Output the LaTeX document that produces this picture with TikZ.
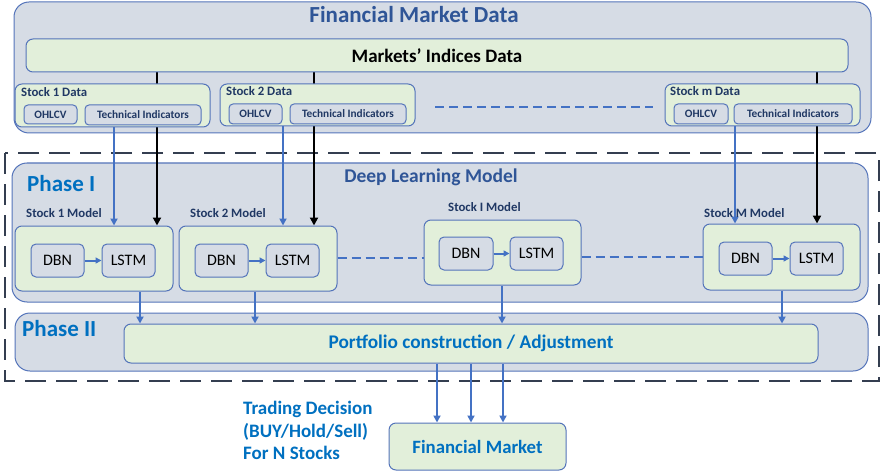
\documentclass[tikz,border=0pt]{standalone}
\usepackage{fontspec}
\setmainfont{Carlito}
\usetikzlibrary{arrows.meta}
\definecolor{framefill}{RGB}{214,220,229}
\definecolor{greenfill}{RGB}{226,239,218}
\definecolor{edgeblue}{RGB}{84,116,186}
\definecolor{arrowblue}{RGB}{68,114,196}
\definecolor{titleblue}{RGB}{47,85,151}
\definecolor{navy}{RGB}{32,56,100}
\definecolor{brightblue}{RGB}{0,112,192}
\definecolor{slate}{RGB}{52,62,80}
\pgfdeclarelayer{back}
\pgfdeclarelayer{mid}
\pgfsetlayers{back,mid,main}
\tikzset{
  frame/.style={draw=edgeblue, fill=framefill, line width=1pt, rounded corners=15pt, inner sep=0pt},
  gbox/.style={draw=edgeblue, fill=greenfill, line width=1pt, rounded corners=7pt, inner sep=0pt},
  tinybox/.style={draw=edgeblue, fill=framefill, line width=1pt, rounded corners=4pt, inner sep=0pt,
    font=\fontsize{11.3}{13}\selectfont\bfseries, text=navy},
  netbox/.style={draw=edgeblue, fill=framefill, line width=1pt, rounded corners=5pt, inner sep=0pt,
    font=\fontsize{16}{18}\selectfont},
  caption/.style={font=\fontsize{12.8}{14}\selectfont\bfseries, text=navy, inner sep=0pt},
  bluearrow/.style={draw=arrowblue, line width=2.3pt, -{Triangle[length=7pt,width=7pt]}},
  blackarrow/.style={draw=black, line width=2.8pt, -{Triangle[length=8pt,width=8pt]}},
  smallarrow/.style={draw=arrowblue, line width=2pt, -{Triangle[length=6pt,width=6pt]}},
  bluedash/.style={draw=arrowblue, line width=2.6pt, dash pattern=on 9pt off 5pt},
  outerdash/.style={draw=slate, line width=2.8pt, dash pattern=on 21pt off 10pt},
}
\begin{document}
\begin{tikzpicture}[x=1pt,y=-1pt]
\useasboundingbox (0,0) rectangle (882,473);

% ---- background frames ----
\begin{pgfonlayer}{back}
  \node[frame, minimum width=857pt, minimum height=131pt] (fmd) at (442.5,67.5) {};
  \draw[outerdash] (5,153) rectangle (879,381);
  \node[frame, minimum width=856pt, minimum height=139pt] (dlm) at (440,232.5) {};
  \node[frame, minimum width=853pt, minimum height=58pt] (ph2) at (441.5,342) {};
\end{pgfonlayer}

\node[font=\fontsize{23}{26}\selectfont\bfseries, text=titleblue] (fmdtitle) at (414,15) {Financial Market Data};
\node[gbox, minimum width=822pt, minimum height=33pt, font=\fontsize{19}{22}\selectfont\bfseries] (mid) at (437,55.5) {Markets’ Indices Data};

% ---- stock data boxes ----
\node[gbox, minimum width=195pt, minimum height=43pt] (sd1) at (112.5,105.5) {};
\node[caption, anchor=west] (sd1lab) at (21,92) {Stock 1 Data};
\node[tinybox, minimum width=53pt, minimum height=19pt] (oh1) at (50.5,114.5) {OHLCV};
\node[tinybox, minimum width=116pt, minimum height=20pt] (ti1) at (143,115) {Technical Indicators};

\node[gbox, minimum width=195pt, minimum height=42pt] (sd2) at (317.5,105) {};
\node[caption, anchor=west] (sd2lab) at (226,91.5) {Stock 2 Data};
\node[tinybox, minimum width=53pt, minimum height=20pt] (oh2) at (255.5,114) {OHLCV};
\node[tinybox, minimum width=116pt, minimum height=20pt] (ti2) at (348,114) {Technical Indicators};

\node[gbox, minimum width=195pt, minimum height=42pt] (sdm) at (762.5,105) {};
\node[caption, anchor=west] (sdmlab) at (670,91.5) {Stock m Data};
\node[tinybox, minimum width=54pt, minimum height=20pt] (ohm) at (701,114) {OHLCV};
\node[tinybox, minimum width=118pt, minimum height=20pt] (tim) at (793,114) {Technical Indicators};

\coordinate (sdotsa) at (435,107);
\coordinate (sdotsb) at (653,107);

% ---- deep learning model ----
\node[font=\fontsize{23}{26}\selectfont\bfseries, text=brightblue, anchor=west, inner sep=0pt] (ph1lab) at (27,184) {Phase I};
\node[font=\fontsize{19.5}{22}\selectfont\bfseries, text=titleblue] (dlmlab) at (431,177) {Deep Learning Model};

\node[gbox, minimum width=158pt, minimum height=65pt] (m1) at (94,258.5) {};
\node[caption, anchor=west] (m1lab) at (26,213) {Stock 1 Model};
\node[netbox, minimum width=53pt, minimum height=33pt] (dbn1) at (57.5,260.5) {DBN};
\node[netbox, minimum width=53pt, minimum height=33pt] (lstm1) at (128.5,260.5) {LSTM};

\node[gbox, minimum width=158pt, minimum height=65pt] (m2) at (258,258.5) {};
\node[caption, anchor=west] (m2lab) at (190,213) {Stock 2 Model};
\node[netbox, minimum width=53pt, minimum height=33pt] (dbn2) at (221.5,260.5) {DBN};
\node[netbox, minimum width=53pt, minimum height=33pt] (lstm2) at (292.5,260.5) {LSTM};

\node[gbox, minimum width=157pt, minimum height=65pt] (mi) at (502.5,252.5) {};
\node[caption, anchor=west] (milab) at (448,207) {Stock I Model};
\node[netbox, minimum width=54pt, minimum height=33pt] (dbni) at (466,253.5) {DBN};
\node[netbox, minimum width=53pt, minimum height=33pt] (lstmi) at (536.5,253.5) {LSTM};

\node[gbox, minimum width=157pt, minimum height=66pt] (mm) at (781.5,257) {};
\node[caption, anchor=west] (mmlab) at (704,213) {Stock M Model};
\node[netbox, minimum width=53pt, minimum height=33pt] (dbnm) at (745.5,258.5) {DBN};
\node[netbox, minimum width=53pt, minimum height=33pt] (lstmm) at (816.5,258.5) {LSTM};

% ---- phase II ----
\node[font=\fontsize{23}{26}\selectfont\bfseries, text=brightblue, anchor=west, inner sep=0pt] (ph2lab) at (22,329) {Phase II};
\node[gbox, minimum width=694pt, minimum height=39pt, font=\fontsize{19.3}{22}\selectfont\bfseries, text=brightblue] (pf) at (471,343.5) {Portfolio construction / Adjustment};

% ---- output ----
\node[gbox, minimum width=177pt, minimum height=47pt, font=\fontsize{18.8}{22}\selectfont\bfseries, text=brightblue] (fm) at (477.5,446.5) {Financial Market};
\node[font=\fontsize{19}{22.5}\selectfont\bfseries, text=brightblue, align=left, anchor=west, inner sep=0pt] (td) at (243,430.5) {Trading Decision\\(BUY/Hold/Sell)\\For N Stocks};

% ---- connectors ----
\begin{pgfonlayer}{mid}
  \draw[blackarrow] (mid.south -| 157,0) -- (m1.north -| 157,0);
  \draw[blackarrow] (mid.south -| 314,0) -- (m2.north -| 314,0);
  \draw[blackarrow] (mid.south -| 817,0) -- (mm.north -| 817,0);
  \draw[bluearrow] (sd1.south -| 114,0) -- (m1.north -| 114,0);
  \draw[bluearrow] (sd2.south -| 283,0) -- (m2.north -| 283,0);
  \draw[bluearrow] (tim.south -| 735,0) -- (mm.north -| 735,0);
  \draw[bluearrow] (m1.south -| 140,0) -- (pf.north -| 140,0);
  \draw[bluearrow] (m2.south -| 255,0) -- (pf.north -| 255,0);
  \draw[bluearrow] (mi.south -| 502,0) -- (pf.north -| 502,0);
  \draw[bluearrow] (mm.south -| 782,0) -- (pf.north -| 782,0);
  \draw[bluearrow] (pf.south -| 437,0) -- (fm.north -| 437,0);
  \draw[bluearrow] (pf.south -| 471,0) -- (fm.north -| 471,0);
  \draw[bluearrow] (pf.south -| 503,0) -- (fm.north -| 503,0);
\end{pgfonlayer}

\draw[bluedash] (sdotsa) -- (sdotsb);
\draw[bluedash] (m2.east |- 0,258) -- (mi.west |- 0,258);
\draw[bluedash] (mi.east |- 0,257) -- (mm.west |- 0,257);

\draw[smallarrow] (dbn1) -- (lstm1);
\draw[smallarrow] (dbn2) -- (lstm2);
\draw[smallarrow] (dbni) -- (lstmi);
\draw[smallarrow] (dbnm) -- (lstmm);
\end{tikzpicture}
\end{document}
